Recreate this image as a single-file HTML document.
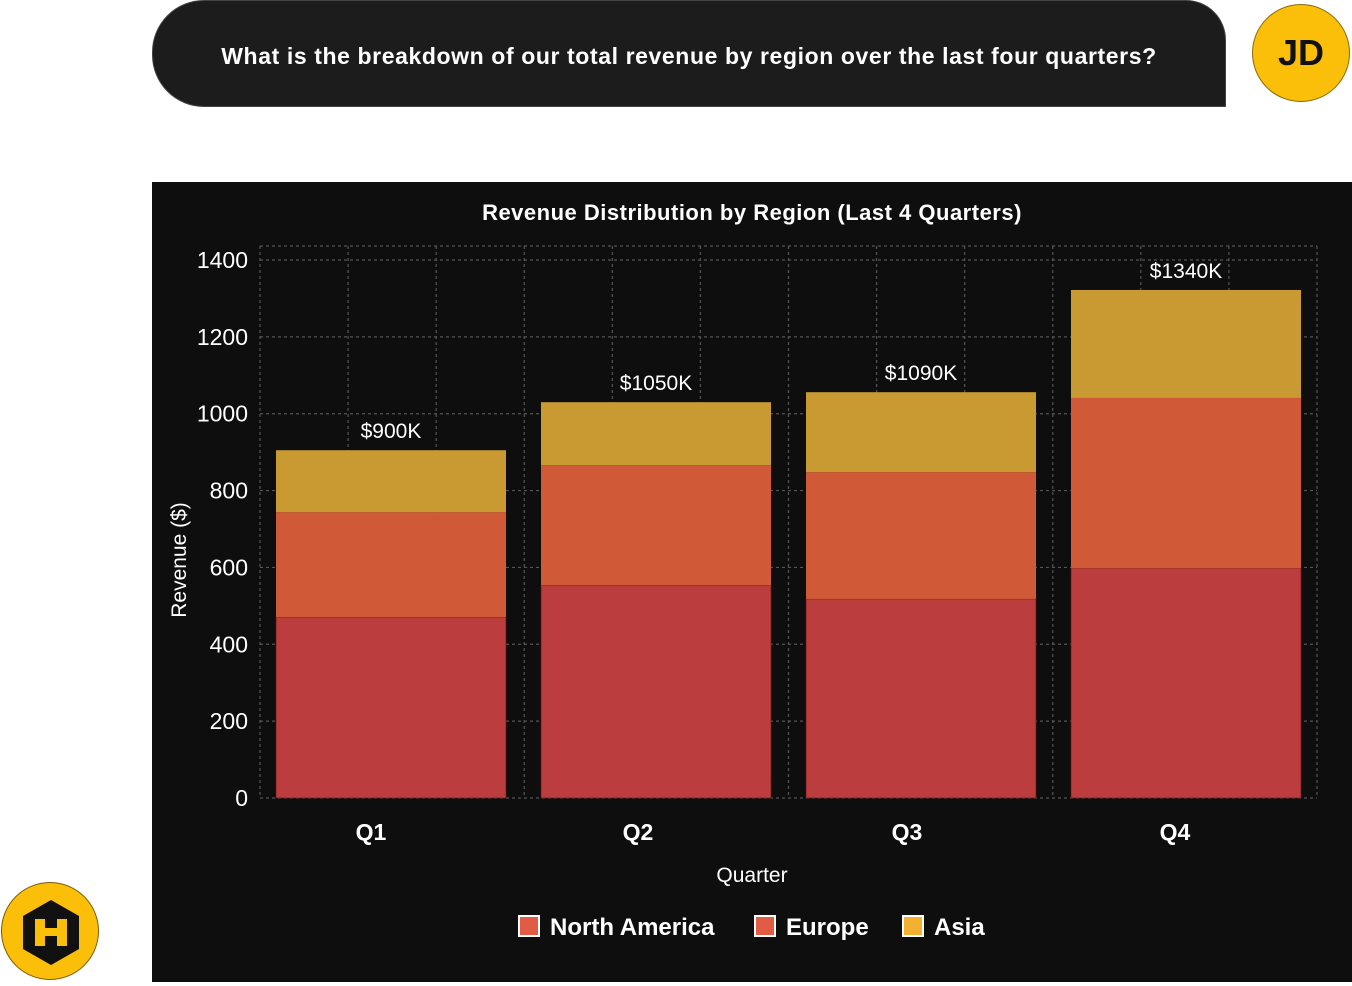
<!DOCTYPE html>
<html><head><meta charset="utf-8"><style>
body{margin:0;width:1352px;height:982px;background:#fff;position:relative;overflow:hidden;font-family:"Liberation Sans",sans-serif}
#bubble{position:absolute;left:152px;top:0;width:1072px;height:105px;background:#1c1c1c;border:1px solid #444;border-top-left-radius:52px;border-bottom-left-radius:52px;border-top-right-radius:40px;border-bottom-right-radius:0;color:#fff;font-weight:bold;font-size:23px;letter-spacing:0.6px;line-height:110px;text-align:center}
#avatar{position:absolute;left:1252px;top:4px;width:98px;height:98px;border-radius:50%;background:#fbbf0a;border:1px solid #8a6a00;box-sizing:border-box;text-align:center;line-height:96px;font-weight:bold;font-size:36px;color:#111}
#logo{position:absolute;left:1px;top:882px;width:98px;height:98px;border-radius:50%;background:#fbbf0a;border:1px solid #7a5c00;box-sizing:border-box}
#chart{position:absolute;left:152px;top:182px}
</style></head><body>
<div id="bubble">What is the breakdown of our total revenue by region over the last four quarters?</div>
<div id="avatar">JD</div>
<div id="logo"><svg width="98" height="98" viewBox="0 0 98 98"><polygon points="49,17 77,33 77,66 49,82 21,66 21,33" fill="#111"/><rect x="33" y="36" width="10" height="27" fill="#fbbf0a"/><rect x="55" y="36" width="10" height="27" fill="#fbbf0a"/><rect x="33" y="45" width="32" height="8" fill="#fbbf0a"/></svg></div>
<svg id="chart" width="1200" height="800"></svg>
<script>
const categories=["Q1","Q2","Q3","Q4"];
const northAmerica=[471,554,518,598];
const europe=[273,312,330,443];
const asia=[161,164,208,281];
const totalLabels=["$900K","$1050K","$1090K","$1340K"];
const yTicks=[0,200,400,600,800,1000,1200,1400];
const NS="http://www.w3.org/2000/svg";
const svg=document.getElementById('chart');
const y0=616, yTop=78, yMax=1400;
const y=v=>y0-(v/yMax)*(y0-yTop);
const plotL=108, plotR=1165;
const bandStart=106.5, bandW=265;
const x=i=>bandStart+bandW*i+bandW/2;
function el(t,a,txt){const e=document.createElementNS(NS,t);for(const k in a)e.setAttribute(k,a[k]);if(txt!=null)e.textContent=txt;svg.appendChild(e);return e;}
const bg=el('rect',{x:0,y:0,width:1200,height:800,fill:'#0e0e0e'});


const grid='#555';
for(let i=0;i<=12;i++){const gx=plotL+i*(plotR-plotL)/12;const l=el('line',{x1:gx,x2:gx,y1:64,y2:616,stroke:grid,'stroke-dasharray':'3,3','stroke-width':1.2});

}
const tl=el('line',{x1:plotL,x2:plotR,y1:64,y2:64,stroke:grid,'stroke-dasharray':'3,3','stroke-width':1.2});


yTicks.forEach(t=>{const l=el('line',{x1:plotL,x2:plotR,y1:y(t),y2:y(t),stroke:grid,'stroke-dasharray':'3,3','stroke-width':1.2});


const tx=el('text',{x:96,y:y(t)+8,fill:'#fff','font-size':23,'text-anchor':'end'},String(t));

});
const bw=230;
const colors=['#bc3d3e','#d05a37','#c99a32'];
const labelShift=[-20,-18,-14,-11];
categories.forEach((c,i)=>{
  const cx=x(i);
  const vals=[northAmerica[i],europe[i],asia[i]];
  let base=0;
  vals.forEach((v,k)=>{const r=el('rect',{x:cx-bw/2,y:y(base+v),width:bw,height:y(base)-y(base+v),fill:colors[k],stroke:k===0?'#6a1010':'none','stroke-width':0.6});
  
  
  base+=v;});
  const lb=el('text',{x:cx,y:y(base)-12,fill:'#fff','font-size':21,'text-anchor':'middle'},totalLabels[i]);
  
  
  const xl=el('text',{x:cx+labelShift[i],y:658,fill:'#fff','font-size':23,'font-weight':'bold','text-anchor':'middle'},c);
  
  
});
const t=el('text',{x:600,y:38,fill:'#fff','font-size':22,'font-weight':'bold','text-anchor':'middle','letter-spacing':'0.5'},'Revenue Distribution by Region (Last 4 Quarters)');


const xt=el('text',{x:600,y:700,fill:'#fff','font-size':21,'text-anchor':'middle'},'Quarter');


const yt=el('text',{x:0,y:0,fill:'#fff','font-size':21,'text-anchor':'middle',transform:'translate(34,378) rotate(-90)'},'Revenue ($)');


const leg=[['North America',367,'#e05c45'],['Europe',603,'#e05c45'],['Asia',751,'#f4b030']];
leg.forEach(([n,lx,col])=>{const r=el('rect',{x:lx,y:734,width:20,height:20,fill:col,stroke:'#fff','stroke-width':2});


const tx=el('text',{x:lx+31,y:753,fill:'#fff','font-size':24,'font-weight':'bold'},n);

});
</script>
</body></html>
